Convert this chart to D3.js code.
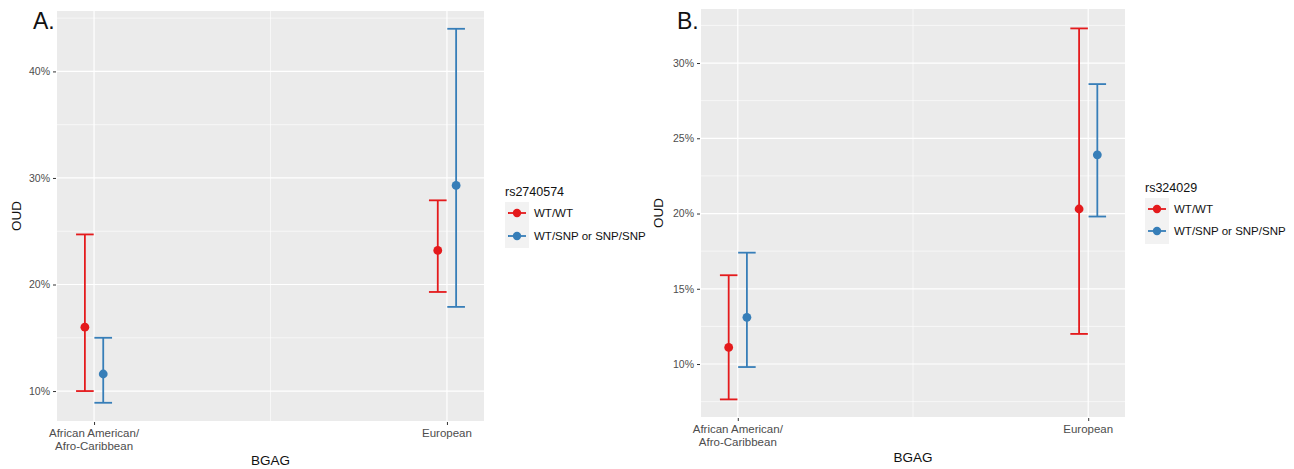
<!DOCTYPE html>
<html>
<head>
<meta charset="utf-8">
<script src="https://cdn.jsdelivr.net/npm/d3@7"></script>
<style>
  body { margin: 0; background: #fff; }
  svg { display: block; font-family: "Liberation Sans", Arial, sans-serif; }
</style>
</head>
<body>
<svg id="chart" width="1294" height="469"></svg>
<script>
// ---- data ----
const categories = ["African American/\nAfro-Caribbean", "European"];
const genotypes = ["WT/WT", "WT/SNP or SNP/SNP"];
const colors = ["#E41A1C", "#377EB8"];

// panel A, rs2740574 (percent)
const meanA_wt  = [16.0, 23.2];
const lowA_wt   = [10.0, 19.3];
const highA_wt  = [24.7, 27.9];
const meanA_snp = [11.6, 29.3];
const lowA_snp  = [8.9, 17.9];
const highA_snp = [15.0, 44.0];
const ticksA = [10, 20, 30, 40];
const minorA = [15, 25, 35, 45];

// panel B, rs324029 (percent)
const meanB_wt  = [11.1, 20.3];
const lowB_wt   = [7.65, 12.0];
const highB_wt  = [15.9, 32.3];
const meanB_snp = [13.1, 23.9];
const lowB_snp  = [9.8, 19.8];
const highB_snp = [17.4, 28.6];
const ticksB = [10, 15, 20, 25, 30];
const minorB = [7.5, 12.5, 17.5, 22.5, 27.5, 32.5];

const svg = d3.select("#chart");

/**
 * Draws one ggplot-like panel with dodged points and error bars.
 */
function draw_panel(opt){
  const x = d3.scalePoint().domain(categories).range([opt.left, opt.right]).padding(0.105);
  const y = d3.scaleLinear().domain(opt.ydomain).range([opt.bottom, opt.top]);
  const step = x.step();
  const dodge = step * 0.026;
  const capw = step * 0.025;

  const g = svg.append("g");

  // background
  g.append("rect")
    .attr("x", opt.left).attr("y", opt.top)
    .attr("width", opt.right - opt.left).attr("height", opt.bottom - opt.top)
    .attr("fill", "#EBEBEB");

  // minor grid
  g.selectAll(".minor-y").data(opt.minor.filter(v => v > opt.ydomain[0] && v < opt.ydomain[1]))
    .join("line")
    .attr("x1", opt.left).attr("x2", opt.right)
    .attr("y1", d => y(d)).attr("y2", d => y(d))
    .attr("stroke", "#fff").attr("stroke-width", 0.6);
  g.append("line")
    .attr("x1", (x(categories[0]) + x(categories[1])) / 2)
    .attr("x2", (x(categories[0]) + x(categories[1])) / 2)
    .attr("y1", opt.top).attr("y2", opt.bottom)
    .attr("stroke", "#fff").attr("stroke-width", 0.6);

  // major grid
  g.selectAll(".major-y").data(opt.ticks)
    .join("line")
    .attr("x1", opt.left).attr("x2", opt.right)
    .attr("y1", d => y(d)).attr("y2", d => y(d))
    .attr("stroke", "#fff").attr("stroke-width", 1.2);
  g.selectAll(".major-x").data(categories)
    .join("line")
    .attr("x1", d => x(d)).attr("x2", d => x(d))
    .attr("y1", opt.top).attr("y2", opt.bottom)
    .attr("stroke", "#fff").attr("stroke-width", 1.2);

  // y axis
  const yAxis = d3.axisLeft(y).tickValues(opt.ticks).tickSize(3).tickPadding(3)
    .tickFormat(d => d + "%");
  const ya = g.append("g").attr("transform", `translate(${opt.left - 1},0)`).call(yAxis);
  ya.select(".domain").remove();
  ya.selectAll(".tick line").attr("stroke", "#333");
  ya.selectAll(".tick text").attr("fill", "#4D4D4D").style("font-size", "10.5px");

  // x axis
  const xAxis = d3.axisBottom(x).tickSize(3).tickPadding(4).tickFormat("");
  const xa = g.append("g").attr("transform", `translate(0,${opt.bottom + 1})`).call(xAxis);
  xa.select(".domain").remove();
  xa.selectAll(".tick line").attr("stroke", "#333");
  categories.forEach(c => {
    const lines = c.split("\n");
    const t = g.append("text")
      .attr("x", x(c)).attr("y", opt.bottom + opt.xlabOffset)
      .attr("text-anchor", "middle").attr("fill", "#4D4D4D").style("font-size", "11.5px");
    lines.forEach((l, i) => {
      t.append("tspan").attr("x", x(c)).attr("dy", i === 0 ? 0 : 12.5).text(l);
    });
  });

  // axis titles
  g.append("text")
    .attr("x", (opt.left + opt.right) / 2).attr("y", opt.xtitleY)
    .attr("text-anchor", "middle").style("font-size", "13.5px").attr("fill", "#111")
    .text("BGAG");
  g.append("text")
    .attr("transform", `translate(${opt.ytitleX},${(opt.top + opt.bottom) / 2}) rotate(-90)`)
    .attr("text-anchor", "middle").style("font-size", "13.5px").attr("fill", "#111")
    .text("OUD");

  // panel tag
  g.append("text")
    .attr("x", opt.tagX).attr("y", 29)
    .style("font-size", "23px").attr("fill", "#111")
    .text(opt.tag);

  // series
  opt.series.forEach((s, si) => {
    const off = si === 0 ? -dodge : dodge;
    const col = colors[si];
    const sg = g.append("g");
    categories.forEach((c, i) => {
      const cx = x(c) + off;
      sg.append("line")
        .attr("x1", cx).attr("x2", cx)
        .attr("y1", y(s.low[i])).attr("y2", y(s.high[i]))
        .attr("stroke", col).attr("stroke-width", 1.8);
      [s.low[i], s.high[i]].forEach(v => {
        sg.append("line")
          .attr("x1", cx - capw).attr("x2", cx + capw)
          .attr("y1", y(v)).attr("y2", y(v))
          .attr("stroke", col).attr("stroke-width", 1.8);
      });
      sg.append("circle")
        .attr("cx", cx).attr("cy", y(s.mean[i])).attr("r", 4.4)
        .attr("fill", col);
    });
  });

  // legend
  const lg = g.append("g");
  lg.append("text")
    .attr("x", opt.legX).attr("y", opt.legTitleY)
    .style("font-size", "12.5px").attr("fill", "#111")
    .text(opt.legTitle);
  lg.append("rect")
    .attr("x", opt.legX).attr("y", opt.legTitleY + 6)
    .attr("width", 24).attr("height", 46)
    .attr("fill", "#F2F2F2");
  genotypes.forEach((gname, i) => {
    const ky = opt.legTitleY + 17 + i * opt.legStep;
    lg.append("line")
      .attr("x1", opt.legX + 3).attr("x2", opt.legX + 21)
      .attr("y1", ky).attr("y2", ky)
      .attr("stroke", colors[i]).attr("stroke-width", 1.8);
    lg.append("circle")
      .attr("cx", opt.legX + 12).attr("cy", ky).attr("r", 4.2)
      .attr("fill", colors[i]);
    lg.append("text")
      .attr("x", opt.legX + 29).attr("y", ky + 4)
      .style("font-size", "11.5px").attr("fill", "#111")
      .text(gname);
  });
}

draw_panel({
  tag: "A.", tagX: 33,
  left: 57, right: 484, top: 11, bottom: 421,
  ydomain: [7.19, 45.67], ticks: ticksA, minor: minorA,
  xlabOffset: 16, xtitleY: 465, ytitleX: 21,
  legX: 505, legTitleY: 196, legStep: 23, legTitle: "rs2740574",
  series: [
    { mean: meanA_wt, low: lowA_wt, high: highA_wt },
    { mean: meanA_snp, low: lowA_snp, high: highA_snp }
  ]
});

draw_panel({
  tag: "B.", tagX: 677,
  left: 701, right: 1125, top: 9, bottom: 417,
  ydomain: [6.48, 33.59], ticks: ticksB, minor: minorB,
  xlabOffset: 16, xtitleY: 462, ytitleX: 663,
  legX: 1145, legTitleY: 192, legStep: 22, legTitle: "rs324029",
  series: [
    { mean: meanB_wt, low: lowB_wt, high: highB_wt },
    { mean: meanB_snp, low: lowB_snp, high: highB_snp }
  ]
});
</script>
</body>
</html>
